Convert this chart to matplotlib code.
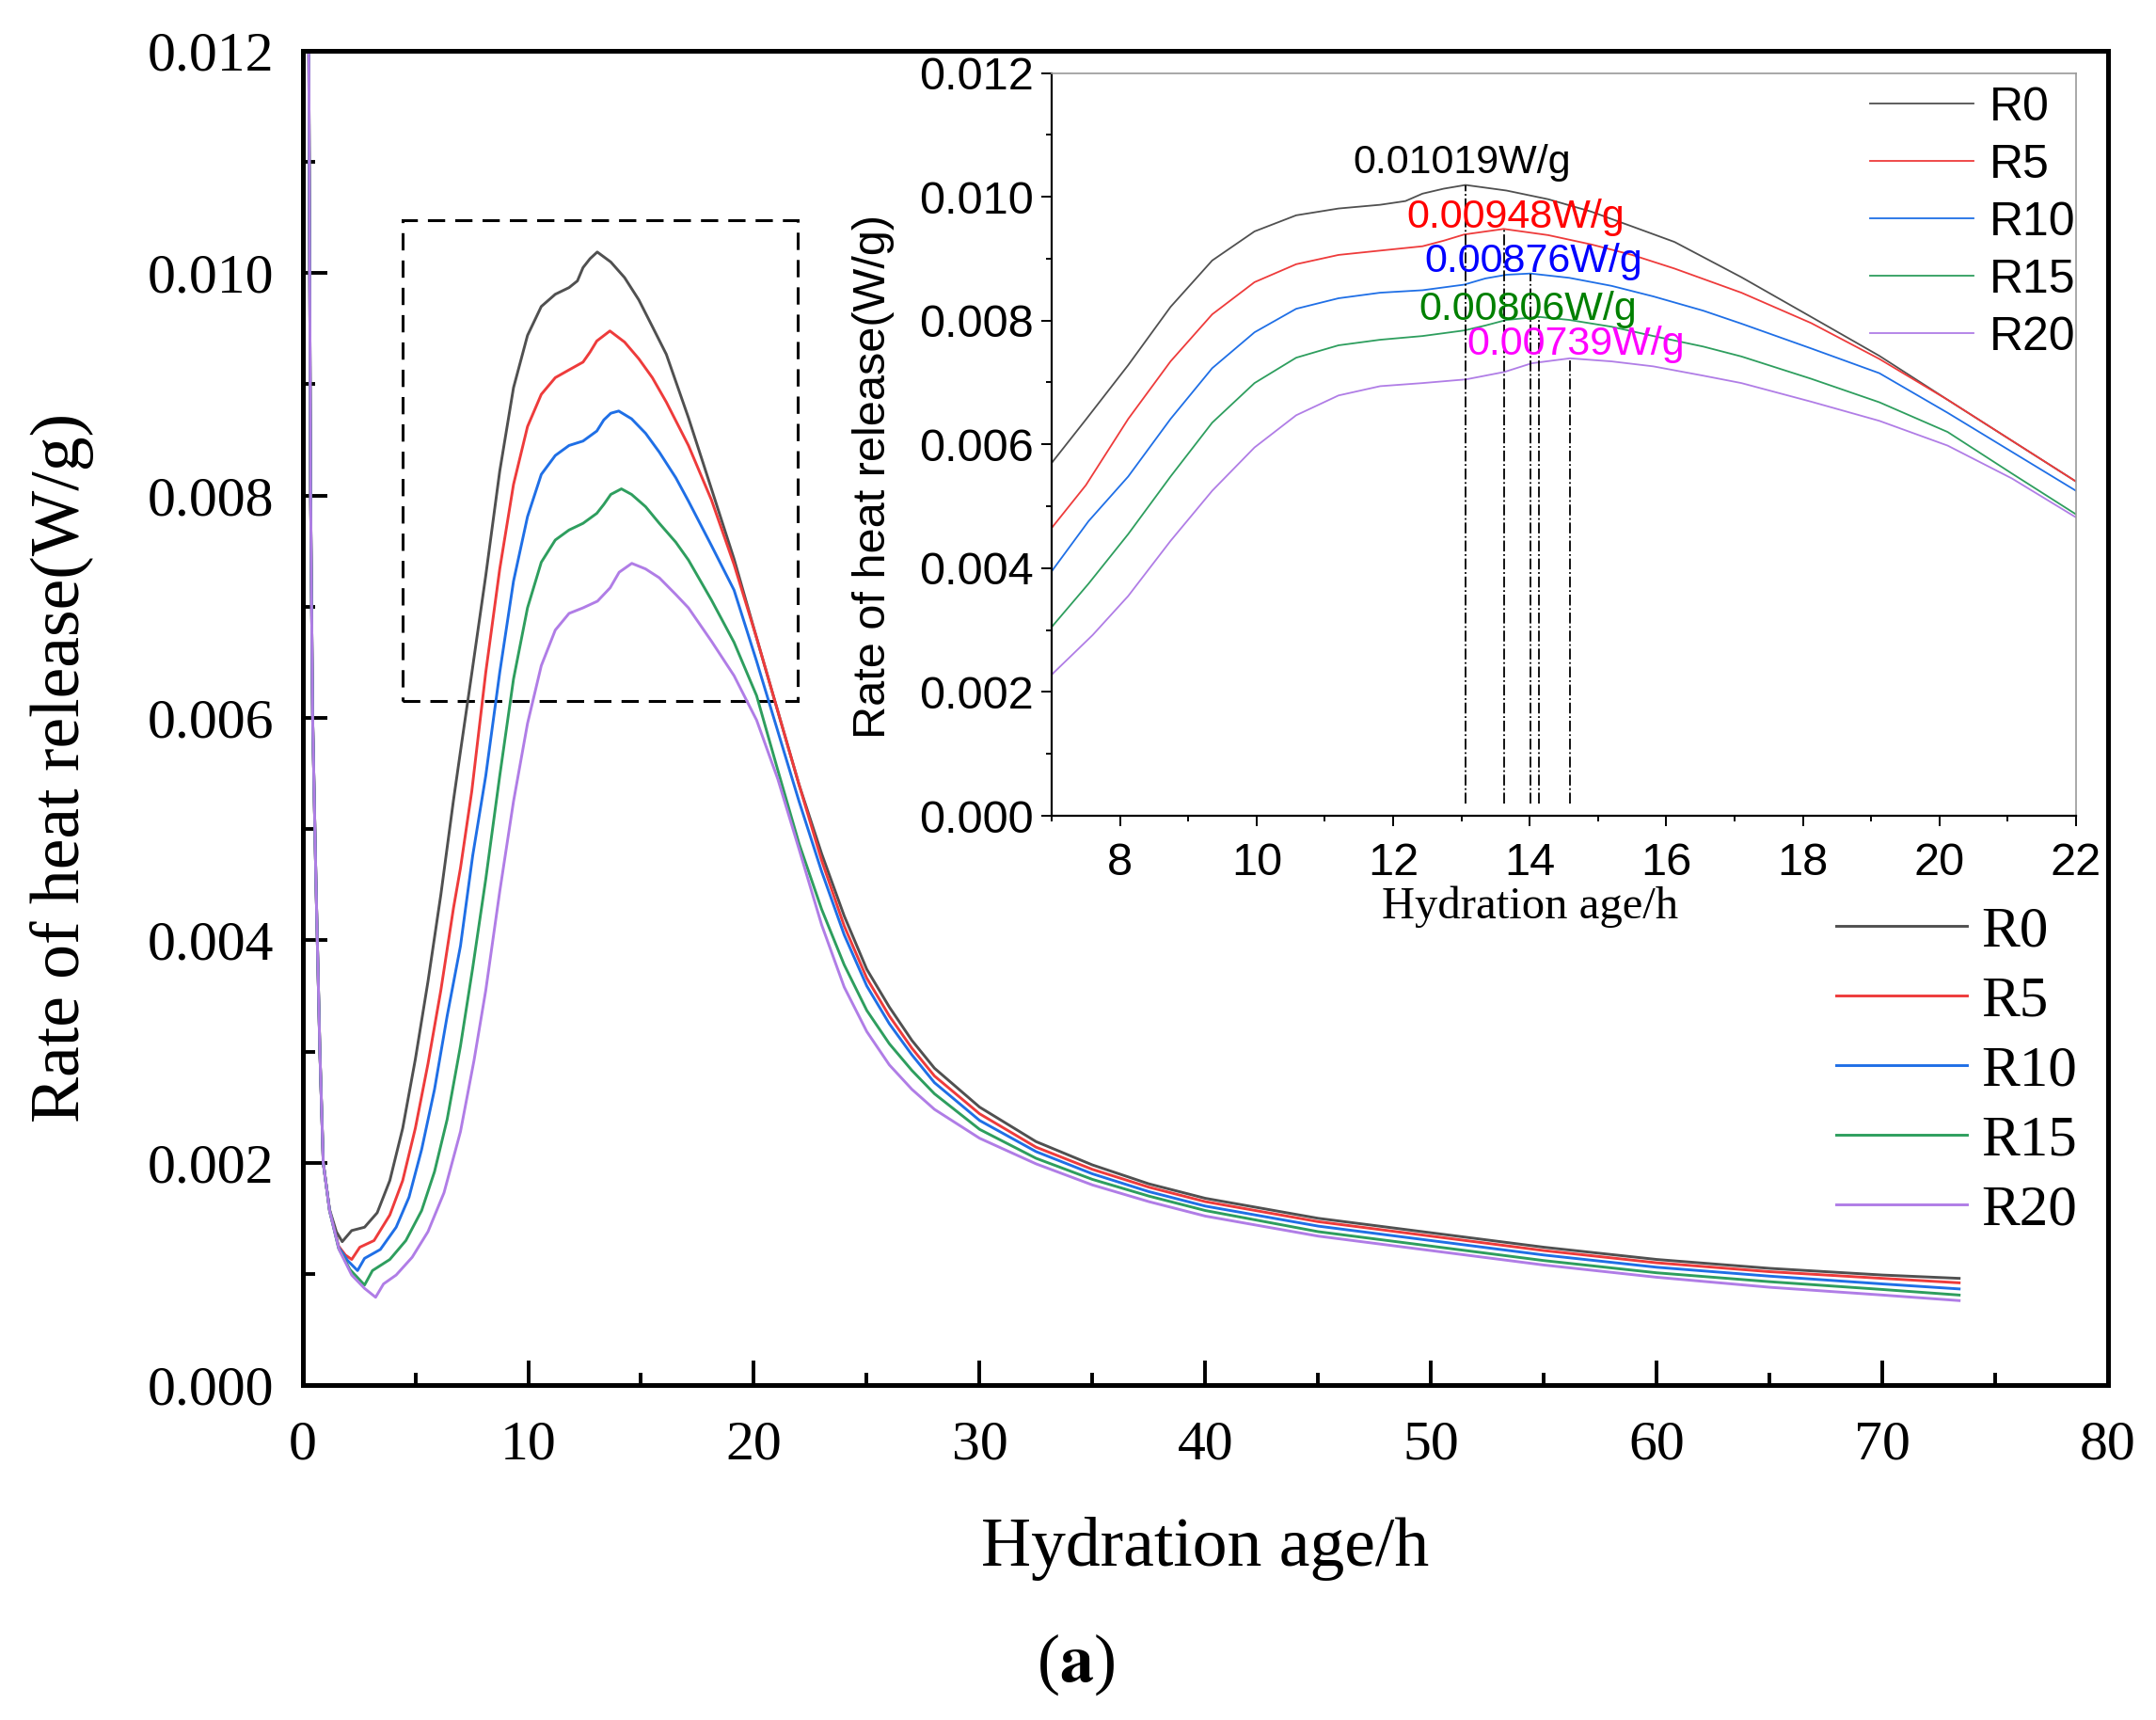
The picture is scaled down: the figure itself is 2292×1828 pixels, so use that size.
import matplotlib
matplotlib.use('Agg')
import matplotlib.pyplot as plt
from matplotlib.ticker import MultipleLocator, FormatStrFormatter
from matplotlib.patches import Rectangle

SERIF = 'Liberation Serif'
SANS = 'Liberation Sans'
plt.rcParams['mathtext.fontset'] = 'stix'

# ---- data (hydration age in h, heat flow in W/g) ----
labels = ['R0', 'R5', 'R10', 'R15', 'R20']
colors = ['#505050', '#ee3b3b', '#1f6fe6', '#2e9e5e', '#b07de6']

t_r0 = [0, 0.1, 0.28, 0.36, 0.45, 0.6, 0.77, 0.92, 1.2, 1.5, 1.76, 2.18, 2.75, 3.31, 3.87,
        4.44, 5.0, 5.56, 6.13, 6.69, 7.0, 7.5, 8.12, 8.74, 9.35, 9.97, 10.58, 11.2, 11.81,
        12.18, 12.43, 12.74, 13.06, 13.66, 14.27, 14.9, 15.5, 16.12, 17.1, 18.12, 19.12,
        20.12, 21.06, 22.0, 23.0, 24.0, 25.0, 26.0, 27.0, 28.0, 30.0, 32.5, 35.0, 37.5,
        40.0, 45.0, 50.0, 55.0, 60.0, 65.0, 70.0, 73.4]
q_r0 = [0, 0.03, 0.012, 0.008, 0.006, 0.0045, 0.003, 0.002, 0.00158, 0.00138, 0.00129,
        0.00139, 0.00142, 0.00155, 0.00184, 0.00231, 0.00293, 0.00363, 0.00441, 0.00526,
        0.0057, 0.0064, 0.00728, 0.00822, 0.00897, 0.00944, 0.0097, 0.00981, 0.00987,
        0.00993, 0.01005, 0.01013, 0.01019, 0.0101, 0.00996, 0.00976, 0.00952, 0.00927,
        0.0087, 0.00806, 0.00743, 0.00672, 0.00606, 0.0054, 0.00478, 0.00422, 0.00374,
        0.0034, 0.0031, 0.00285, 0.0025, 0.00219, 0.00198, 0.00181, 0.00168, 0.0015,
        0.00137, 0.00124, 0.00113, 0.00105, 0.00099, 0.00096]

t_r5 = [0, 0.1, 0.28, 0.36, 0.45, 0.6, 0.77, 0.92, 1.2, 1.6, 1.9, 2.18, 2.54, 3.17, 3.87,
        4.44, 5.0, 5.56, 6.13, 6.69, 7.0, 7.5, 8.12, 8.74, 9.35, 9.97, 10.58, 11.2, 11.81,
        12.43, 12.74, 13.04, 13.62, 14.27, 14.9, 15.5, 16.12, 17.1, 18.12, 19.12, 20.12,
        21.06, 22.0, 23.0, 24.0, 25.0, 26.0, 27.0, 28.0, 30.0, 32.5, 35.0, 37.5, 40.0,
        45.0, 50.0, 55.0, 60.0, 65.0, 70.0, 73.4]
q_r5 = [0, 0.03, 0.012, 0.008, 0.006, 0.0045, 0.003, 0.002, 0.00157, 0.00125, 0.00117,
        0.00113, 0.00124, 0.0013, 0.00153, 0.00184, 0.00231, 0.00289, 0.00355, 0.00429,
        0.00465, 0.00534, 0.00641, 0.00734, 0.0081, 0.00862, 0.00891, 0.00906, 0.00913,
        0.0092, 0.00929, 0.00939, 0.00948, 0.00938, 0.00923, 0.00906, 0.00884, 0.00845,
        0.00796, 0.00738, 0.00672, 0.00606, 0.0054, 0.00472, 0.00413, 0.00366, 0.00332,
        0.00303, 0.00278, 0.00244, 0.00214, 0.00194, 0.00178, 0.00165, 0.00147, 0.00134,
        0.00121, 0.0011, 0.00102, 0.00096, 0.00092]

t_r10 = [0, 0.1, 0.28, 0.36, 0.45, 0.6, 0.77, 0.92, 1.2, 1.6, 2.0, 2.44, 2.75, 3.45, 4.15,
         4.72, 5.28, 5.85, 6.41, 7.0, 7.54, 8.12, 8.74, 9.35, 9.97, 10.58, 11.2, 11.81,
         12.43, 13.04, 13.35, 13.66, 14.01, 14.58, 15.2, 15.81, 16.54, 17.1, 18.12, 19.12,
         20.12, 21.06, 22.0, 23.0, 24.0, 25.0, 26.0, 27.0, 28.0, 30.0, 32.5, 35.0, 37.5,
         40.0, 45.0, 50.0, 55.0, 60.0, 65.0, 70.0, 73.4]
q_r10 = [0, 0.03, 0.012, 0.008, 0.006, 0.0045, 0.003, 0.002, 0.00157, 0.00124, 0.00112,
         0.00103, 0.00114, 0.00122, 0.00142, 0.00169, 0.00212, 0.00266, 0.00332, 0.00395,
         0.00476, 0.00548, 0.00641, 0.00723, 0.00781, 0.00819, 0.00836, 0.00845, 0.00849,
         0.00858, 0.00868, 0.00874, 0.00876, 0.00869, 0.00856, 0.00839, 0.00816, 0.00795,
         0.00755, 0.00715, 0.00651, 0.00588, 0.00525, 0.00462, 0.00405, 0.00359, 0.00325,
         0.00297, 0.00272, 0.00238, 0.0021, 0.0019, 0.00174, 0.00161, 0.00143, 0.0013,
         0.00117, 0.00106, 0.00098, 0.00091, 0.000865]

t_r15 = [0, 0.1, 0.28, 0.36, 0.45, 0.6, 0.77, 0.92, 1.2, 1.6, 2.1, 2.75, 3.1, 3.87, 4.58,
         5.28, 5.85, 6.41, 7.0, 7.54, 8.12, 8.74, 9.35, 9.97, 10.58, 11.2, 11.81, 12.43,
         13.04, 13.35, 13.66, 14.13, 14.58, 15.2, 15.81, 16.54, 17.1, 18.12, 19.12, 20.12,
         21.06, 22.0, 23.0, 24.0, 25.0, 26.0, 27.0, 28.0, 30.0, 32.5, 35.0, 37.5, 40.0,
         45.0, 50.0, 55.0, 60.0, 65.0, 70.0, 73.4]
q_r15 = [0, 0.03, 0.012, 0.008, 0.006, 0.0045, 0.003, 0.002, 0.00157, 0.00123, 0.00104,
         0.0009, 0.00103, 0.00113, 0.0013, 0.00157, 0.00192, 0.00239, 0.00305, 0.00375,
         0.00455, 0.00548, 0.00635, 0.00699, 0.0074, 0.0076, 0.00769, 0.00775, 0.00784,
         0.00792, 0.00801, 0.00806, 0.00801, 0.0079, 0.00775, 0.00758, 0.00742, 0.00706,
         0.00668, 0.0062, 0.00553, 0.00487, 0.00428, 0.00378, 0.00337, 0.00307, 0.00283,
         0.00262, 0.0023, 0.00204, 0.00185, 0.0017, 0.00157, 0.00138, 0.00125, 0.00112,
         0.00101, 0.00093, 0.00086, 0.00081]

t_r20 = [0, 0.1, 0.28, 0.36, 0.45, 0.6, 0.77, 0.92, 1.2, 1.62, 2.18, 2.75, 3.24, 3.59, 4.15,
         4.86, 5.56, 6.27, 7.0, 7.6, 8.12, 8.74, 9.35, 9.97, 10.58, 11.2, 11.81, 12.43,
         13.07, 13.63, 14.03, 14.59, 15.2, 15.81, 16.54, 17.1, 18.12, 19.12, 20.12, 21.06,
         22.0, 23.0, 24.0, 25.0, 26.0, 27.0, 28.0, 30.0, 32.5, 35.0, 37.5, 40.0, 45.0,
         50.0, 55.0, 60.0, 65.0, 70.0, 73.4]
q_r20 = [0, 0.03, 0.012, 0.008, 0.006, 0.0045, 0.003, 0.002, 0.00157, 0.00122, 0.00099,
         0.00087, 0.00079, 0.00091, 0.00099, 0.00115, 0.00138, 0.00173, 0.00228, 0.00292,
         0.00355, 0.00444, 0.00525, 0.00595, 0.00647, 0.00679, 0.00694, 0.00699, 0.00705,
         0.00717, 0.00731, 0.00739, 0.00734, 0.00726, 0.00711, 0.00699, 0.00669, 0.00638,
         0.00598, 0.00545, 0.00482, 0.00414, 0.00358, 0.00318, 0.00288, 0.00266, 0.00248,
         0.00222, 0.00199, 0.0018, 0.00165, 0.00152, 0.00134, 0.00121, 0.00108, 0.00097,
         0.00088, 0.00081, 0.00076]

# peak markers in the inset
peak_t = [13.06, 13.62, 14.01, 14.13, 14.59]
peak_q = [0.01019, 0.00948, 0.00876, 0.00806, 0.00739]
peak_text = ['0.01019W/g', '0.00948W/g', '0.00876W/g', '0.00806W/g', '0.00739W/g']
peak_text_x = [13.01, 13.80, 14.05, 13.97, 14.68]
peak_text_y = [0.01055, 0.00967, 0.00895, 0.00817, 0.00761]
peak_text_colors = ['black', 'red', 'blue', 'green', 'magenta']

series_t = [t_r0, t_r5, t_r10, t_r15, t_r20]
series_q = [q_r0, q_r5, q_r10, q_r15, q_r20]

# zoom box drawn on the main plot
box_x0, box_x1 = 4.45, 21.94
box_y0, box_y1 = 0.00615, 0.01048

fig = plt.figure(figsize=(22.92, 18.28), dpi=100)
ax = fig.add_axes([0.1403, 0.1947, 0.8375, 0.7758])

for t, q, lab, c in zip(series_t, series_q, labels, colors):
    ax.plot(t, q, color=c, lw=2.1, label=lab, solid_joinstyle='round')

ax.add_patch(Rectangle((box_x0, box_y0), box_x1 - box_x0, box_y1 - box_y0,
                       fill=False, ec='black', lw=2.2, ls=(0, (6, 3.5))))

ax.set_xlim(0, 80)
ax.set_ylim(0, 0.012)
ax.xaxis.set_major_locator(MultipleLocator(10))
ax.xaxis.set_minor_locator(MultipleLocator(5))
ax.yaxis.set_major_locator(MultipleLocator(0.002))
ax.yaxis.set_minor_locator(MultipleLocator(0.001))
ax.yaxis.set_major_formatter(FormatStrFormatter('%.3f'))
ax.tick_params(which='major', direction='in', length=19, width=2.8, labelsize=43)
ax.tick_params(which='minor', direction='in', length=9.5, width=2.8)
ax.tick_params(axis='y', which='major', pad=22)
ax.tick_params(axis='x', which='major', pad=27)
for lbl in ax.get_xticklabels() + ax.get_yticklabels():
    lbl.set_fontfamily(SERIF)
for s in ax.spines.values():
    s.set_linewidth(3.6)

ax.set_xlabel('Hydration age/h', fontsize=53, family=SERIF, va='center')
ax.set_ylabel('Rate of heat release(W/g)', fontsize=53, family=SERIF, va='center')
ax.xaxis.set_label_coords(0.5, -0.1225)
ax.yaxis.set_label_coords(-0.133, 0.463)

ax.legend(loc='upper left', bbox_to_anchor=(0.833, 0.497), bbox_transform=fig.transFigure,
          frameon=False, prop={'family': SERIF, 'size': 44}, handlelength=2.28,
          handletextpad=0.25, labelspacing=0.3, borderpad=0.2)

# ---- inset ----
ax_in = fig.add_axes([0.4878, 0.5257, 0.4751, 0.4319])
for t, q, lab, c in zip(series_t, series_q, labels, colors):
    ax_in.plot(t, q, color=c, lw=1.3, label=lab, solid_joinstyle='round')

ax_in.vlines(peak_t, 0.0002, peak_q, colors='black', linestyles='-.', lw=1.3)
for tx, ty, s, c in zip(peak_text_x, peak_text_y, peak_text, peak_text_colors):
    ax_in.text(tx, ty, s, color=c, fontsize=31, family=SANS, ha='center', va='center')

ax_in.set_xlim(7, 22)
ax_in.set_ylim(0, 0.012)
ax_in.xaxis.set_major_locator(MultipleLocator(2))
ax_in.xaxis.set_minor_locator(MultipleLocator(1))
ax_in.yaxis.set_major_locator(MultipleLocator(0.002))
ax_in.yaxis.set_minor_locator(MultipleLocator(0.001))
ax_in.yaxis.set_major_formatter(FormatStrFormatter('%.3f'))
ax_in.tick_params(which='major', direction='out', length=8, width=1.4, labelsize=35)
ax_in.tick_params(which='minor', direction='out', length=4.5, width=1.4)
ax_in.tick_params(axis='y', which='major', pad=6)
ax_in.tick_params(axis='x', which='major', pad=12)
for lbl in ax_in.get_xticklabels() + ax_in.get_yticklabels():
    lbl.set_fontfamily(SANS)
ax_in.spines['left'].set_linewidth(1.6)
ax_in.spines['bottom'].set_linewidth(1.6)
for side in ['top', 'right']:
    ax_in.spines[side].set_linewidth(1.2)
    ax_in.spines[side].set_color('#999999')

ax_in.set_xlabel('Hydration age/h', fontsize=35, family=SERIF, va='center')
ax_in.set_ylabel('Rate of heat release(W/g)', fontsize=35, family=SANS, va='center')
ax_in.xaxis.set_label_coords(0.467, -0.122)
ax_in.yaxis.set_label_coords(-0.1745, 0.457)

ax_in.legend(loc='upper left', bbox_to_anchor=(0.852, 0.969), bbox_transform=fig.transFigure,
             frameon=False, prop={'family': SANS, 'size': 36}, handlelength=2.2,
             handletextpad=0.34, labelspacing=0.3, borderpad=0.2)

fig.text(0.499, 0.032, r'($\mathbf{a}$)', fontsize=52, family=SERIF, ha='center', va='center')

fig.savefig('out.png', dpi=100)
